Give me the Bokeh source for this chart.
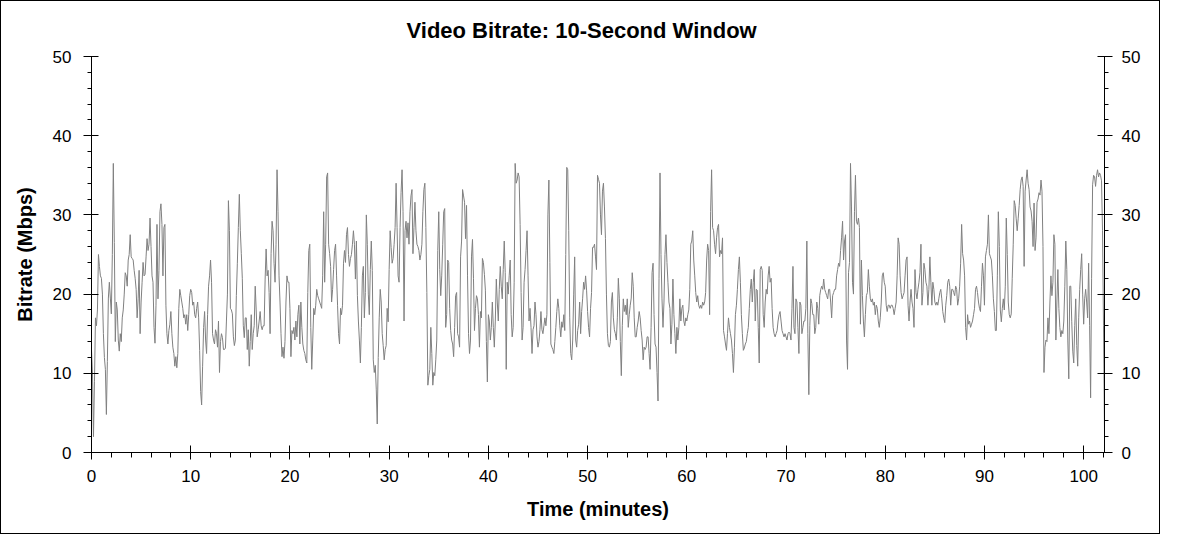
from bokeh.plotting import figure
from bokeh.models import LinearAxis, SingleIntervalTicker, Range1d
from bokeh.embed import file_html
from bokeh.resources import INLINE

# ---- data (Mbps, one sample every 0.1 minute) ----
bitrate_mbps = [
    13, 10, 2, 9, 17, 16, 18, 25, 23.5, 22.3,
    22, 20, 15, 12, 10.5, 4.8, 11.5, 19.5, 21.5, 19.5,
    17.5, 25, 36.5, 26.5, 14, 19, 18, 14.2, 12.8, 15,
    14, 17, 18, 20, 22.7, 22.3, 21, 24.3, 25, 27.5,
    24.7, 24.5, 24.3, 23, 22, 20.6, 17, 19.4, 23, 15,
    19, 21.5, 24, 22.3, 22.5, 24.7, 27, 25.5, 26.3, 29.6,
    26, 22.3, 21.5, 15.8, 13.8, 18.6, 28.8, 19.4, 23, 30.4,
    31.4, 28.8, 22.3, 28.4, 28.8, 18.6, 15, 13.7, 15.4, 16.2,
    17.8, 15, 13.3, 12.5, 10.9, 12.1, 10.7, 12.5, 18.2, 20.6,
    19.8, 19, 18.2, 17, 17.4, 16.2, 17.4, 15.4, 17.4, 19.8,
    20.6, 20.2, 18.6, 19, 17.4, 17, 18.2, 19, 17, 12.9,
    7.7, 6, 10.9, 15.8, 17.8, 14.2, 12.5, 17.4, 21, 22.3,
    24.3, 21.5, 15, 14.2, 13.7, 15.5, 15, 13.3, 16.6,
    10.1, 14, 15, 14.5, 13, 13, 13.2, 16.6, 20, 31.8,
    28, 18.2, 18, 17.5, 14.6, 13.5, 14.2, 19.8, 23.9, 28.4,
    32.6, 28, 25.1, 22, 16, 14.5, 17, 17, 13, 15.5,
    10.9, 14, 17.4, 13, 15, 16, 21, 18, 14.6, 15.5,
    16.6, 17.8, 16, 15.5, 16, 16, 21.9, 25.7, 22.3, 23,
    20.2, 15, 25.1, 29.2, 28, 23.9, 21.5, 26.3, 35.7, 30.4,
    22.3, 19, 15, 12.1, 13.3, 11.9, 14, 19, 22.3, 21.5,
    21.5, 18.2, 12.1, 15.4, 15, 15.8, 14.2, 16.6, 14.6, 17.4,
    18.6, 13.7, 19, 15.8, 13.7, 12.9, 12.5, 11.7, 11.3, 20.2,
    25.5, 26.3, 15.8, 10.5, 14.2, 18.2, 17.4, 18.6, 20.6, 19.8,
    19.4, 19, 18.6, 18.2, 22.3, 30.4, 21.5, 26.3, 34.8, 35.3,
    26.3, 25.1, 23.5, 19, 20.6, 23.1, 25.5, 26.3, 22.3, 18.6,
    15, 13.7, 18.2, 17.4, 18.6, 23.9, 25.5,
    24, 27.5, 28.4, 25, 23.5, 24.5, 25, 26.3, 28, 26.3,
    21.9, 26.7, 19.8, 16.6, 14.2, 11.3, 15.8, 22.3, 23.5, 17,
    20.2, 30, 26.3, 20, 17.4, 23.1, 26.7, 23, 11.7, 10.1,
    11, 8, 3.6, 12, 17, 20.6, 19, 15, 13.5, 11.7,
    13, 13.5, 18.2, 16.5, 23.1, 28, 25.9, 23.9, 24.5, 26.3,
    28.4, 34, 28.4, 22.3, 21.5, 28.4, 32.8, 35.7, 30.4, 16.6,
    28, 29.2, 27.1, 29, 26.3, 30.4, 32.4, 33.2, 25.1, 28.4,
    31.6, 28, 26.3, 26, 25.5, 24.3, 25, 26.3, 30.4, 33.2,
    34, 28.4, 20.2, 8.5, 9.7, 10.5, 15.8, 12.5, 8.5, 10.1,
    9.7, 11.7, 14.2, 25.5, 30.4, 23.1, 19.8, 22.3, 26.3, 30.4,
    30.8, 15.8, 17.4, 24.3, 24, 18.2, 15.4, 14.2, 13.7, 12.1,
    15.8, 19.8, 20.2, 15, 14.6, 13.3, 24.7, 26.7, 33.2, 32.4,
    31.6, 27, 31.2, 22.3, 15, 12.5, 14.2,
    24.7, 26.9, 22, 15.4, 18.2, 19.8, 19.4, 17.4, 13.3, 17.8,
    17, 24.5, 24, 22.5, 20.5, 14, 8.9, 17.4, 16.6, 14.2,
    15.8, 19, 15.8, 13.3, 16.6, 21.9, 19, 16.6, 20.6, 23.5,
    21, 19.4, 23.1, 26.7, 22.7, 10.5, 21.5, 20, 22.3, 24.3,
    17.4, 14.6, 15.8, 21.5, 36.5, 34, 34.4, 35.3, 34.8, 28.8,
    20.2, 14.2, 15.8, 21.5, 23.1, 25.5, 28, 22.3, 16.6, 18.2,
    15.8, 12.5, 15.5, 16, 19, 17.4, 14.6, 13.3, 14, 15.5,
    17.8, 15.5, 15, 16, 17, 16, 17.4, 30, 34.4, 24,
    13.7, 13.3, 13, 12.5, 14, 15.8, 17.8, 19.4, 18.2, 16,
    14.6, 16.5, 15.8, 17.4, 15.4, 25, 36, 35.7, 28, 17,
    12.5, 11.7, 14.2, 20, 24.7, 14.2, 13.3, 15.4, 16.2, 19,
    15, 17.8, 19.4, 21.5, 20.6, 22.3, 20.5, 17.8, 15.8, 14.6,
    18.2, 20.2, 25.9, 25.9, 26.3, 24.7, 23.1,
    35, 34.5, 34, 30, 27.5, 33, 34, 31, 27, 20,
    15, 13.5, 13.3, 14, 19, 20.2, 17, 15.5, 15, 14.2,
    17, 22, 19.4, 14, 9.7, 16, 19.4, 17.8, 18.6, 17.4,
    19.4, 15.8, 17.4, 18.6, 19.5, 22.7, 21, 17, 14.6, 14.6,
    15.8, 16.6, 17.8, 17, 15.4, 14.2, 11.7, 13.3, 13, 13.3,
    14.6, 14.6, 12.5, 10.5, 15.8, 22.7, 23.9, 17.4, 13.7, 13.3,
    10.1, 6.5, 22, 35.3, 25, 19.4, 15.8, 19, 25, 27.5,
    24, 21.5, 19, 18.2, 13.7, 16.2, 21.9, 17.4, 15, 12.5,
    15.8, 14.2, 15.8, 19.4, 16.6, 18.2, 18.6, 16.6, 16, 17,
    16.6, 17.4, 18, 20.6, 26.3, 26.7, 28, 24.3, 22.3, 20.2,
    19, 19.8, 18.6, 18.2, 18.6, 18.2, 19, 18.6, 19, 20.2,
    24.3, 26.3, 25.5, 17.4, 30.4, 35.7, 28.4, 28, 26.3, 25.1,
    27.1, 28.4, 28.8, 24.7, 25.5, 25.1, 27.1,
    15.4, 14.6, 13.7, 12.9, 15, 17, 15.8, 15, 14.2, 12.5,
    10.1, 13.3, 17.4, 18.6, 20.6, 23.1, 24.7, 21.5, 17.4, 15,
    12.9, 13.2, 13.7, 14, 15, 15.8, 18.2, 20.6, 21.9, 19,
    21.5, 23.1, 16.6, 20.6, 20.5, 15.8, 11.3, 23.1, 23.5, 23,
    17.4, 15.8, 19, 20.6, 20, 22.3, 23.5, 21.5, 22, 18.2,
    15.8, 15, 14.6, 15, 15.4, 16.6, 17.4, 17.8, 16.6, 15.4,
    15, 14.6, 15, 14.6, 14.2, 15, 15.2, 15, 14.2, 18.2,
    23.5, 15.8, 15, 19.4, 19, 15.8, 12.5, 19, 18.6, 15,
    15.8, 16.6, 16.6, 18.2, 26.7, 15, 7.3, 16, 19.4, 18.8,
    17.4, 17.4, 15, 15.8, 19, 18.2, 16.2, 19.8, 20.6, 21,
    20.6, 21.9, 20.6, 20.2, 19.8, 19.4, 20.6, 20.6, 19, 17,
    19.8, 20.2, 20.6, 20.6, 22.3, 23.1, 23.9, 23.5, 25.5, 27.1,
    29.2, 24.3, 26.7, 27.5, 14.2, 10.5, 22.7,
    24, 36.5, 31, 21.5, 20, 30.4, 35, 29.2, 28.8, 29.6,
    28.4, 16.2, 24.3, 19.8, 16.6, 14.6, 17.4, 19.8, 20.2, 23.1,
    21, 19.4, 19, 19.4, 18.6, 19, 17.4, 18.6, 18.2, 16.6,
    15.8, 17, 19, 22.3, 22.7, 21.5, 21, 18.6, 17.8, 18.6,
    18.6, 18.2, 18.6, 18.6, 18.2, 17.4, 18.2, 19, 22.3, 27.1,
    26.3, 22.3, 20.2, 19.4, 19.8, 20.2, 22.3, 24.3, 24.7, 18.6,
    16.6, 19, 20.6, 19, 18.2, 15.8, 23.1, 20.2, 19.4, 20.6,
    21.5, 22.7, 26.3, 18.6, 20.2, 23.9, 23.1, 21.5, 21, 18.6,
    20.6, 24.7, 21.5, 18.6, 21.5, 20.6, 19, 18.6, 19, 18.6,
    19.4, 20.2, 20.6, 19.4, 17.8, 17, 16.4, 18.6, 19.8, 21.5,
    21.9, 21, 18.6, 20.6, 20.6, 20.2, 19.8, 21, 20.6, 18.6,
    19.4, 21, 23.9, 28.8, 25.1, 24.3, 22.3, 15.8, 14.2, 17.4,
    16.2, 16.6, 15.8, 16.2, 16.6, 17.4, 18.2,
    20.6, 21, 20.2, 19, 18.2, 17.8, 21, 23.9, 22.3, 18.6,
    24.7, 25.5, 26.3, 30, 25.1, 24.7, 24.3, 22.3, 19.4, 17.8,
    15.4, 15.4, 22.3, 30.4, 26, 18, 16.5, 18.2, 19.4, 18,
    21, 29.6, 25, 19, 17.4, 17, 17.5, 22, 26.3, 31.8,
    31.2, 29.5, 28, 29.5, 31.2, 33.2, 34.4, 34.8, 33.6, 23.5,
    33, 34.4, 35.7, 34, 33.2, 31, 30.5, 29.2, 26, 31.5,
    25.5, 27.1, 31.6, 32, 32.8, 32.5, 34.4, 33, 26, 10.1,
    13.3, 14.2, 14, 17, 15, 19, 22.3, 19.8, 21.5, 27.5,
    26.3, 14.2, 19, 23.1, 18.2, 15.8, 14.6, 15.4, 15, 16.6,
    21, 26.7, 23.1, 14.2, 9.3, 21, 21, 16.5, 12.8, 11.3,
    16, 19.4, 13.5, 10.9, 17, 20.6, 23.1, 25.1, 20, 16.2,
    19.4, 20.6, 19, 17, 23.9, 16, 6.9, 22, 33.8, 35,
    34.8, 33.6, 35, 35.7, 34.8, 35.3, 35, 34.3, 28, 16,
    2.5,
]
sample_step_minutes = 0.1
time_minutes = [i * sample_step_minutes for i in range(len(bitrate_mbps))]

x_max = 102.1
y_max = 50

FONT = "Liberation Sans"

p = figure(width=1160, height=534, output_backend="svg", toolbar_location=None,
           x_range=Range1d(0, x_max), y_range=Range1d(0, y_max),
           min_border_left=90, min_border_right=57, min_border_top=55,
           min_border_bottom=83)
p.styles = {"border": "1px solid #000000"}
p.background_fill_color = "white"
p.border_fill_color = "white"
p.outline_line_color = None
p.xgrid.visible = False
p.ygrid.visible = False

p.title.text = "Video Bitrate: 10-Second Window"
p.title.align = "left"
p.title.text_font = FONT
p.title.text_font_size = "22px"
p.title.text_font_style = "bold"
p.title.text_color = "black"
p.title.offset = 315
p.title.standoff = 28

p.line(time_minutes, bitrate_mbps, line_color="#808080", line_width=1)


def style_axis(ax, minor_out):
    ax.axis_line_color = "black"
    ax.axis_line_width = 1
    ax.major_tick_line_color = "black"
    ax.minor_tick_line_color = "black"
    ax.major_tick_in = 7
    ax.major_tick_out = 7
    ax.minor_tick_in = 0
    ax.minor_tick_out = minor_out
    ax.major_label_text_font = FONT
    ax.major_label_text_font_size = "17px"
    ax.major_label_text_color = "black"
    ax.axis_label_text_font = FONT
    ax.axis_label_text_font_size = "20px"
    ax.axis_label_text_font_style = "bold"
    ax.axis_label_text_color = "black"


xax = p.xaxis[0]
xax.ticker = SingleIntervalTicker(interval=10, num_minor_ticks=5)
style_axis(xax, 5)
xax.axis_label = "Time (minutes)"
xax.major_label_standoff = 10
xax.axis_label_standoff = 13

yax = p.yaxis[0]
yax.ticker = SingleIntervalTicker(interval=10, num_minor_ticks=5)
style_axis(yax, 4)
yax.major_tick_out = 8
yax.axis_label = "Bitrate (Mbps)"
yax.major_label_standoff = 12
yax.axis_label_standoff = 14

rax = LinearAxis(ticker=SingleIntervalTicker(interval=10, num_minor_ticks=5))
style_axis(rax, 4)
rax.major_tick_out = 8
rax.major_label_standoff = 9
p.add_layout(rax, "right")

open("out.html", "w").write(file_html(p, INLINE))
